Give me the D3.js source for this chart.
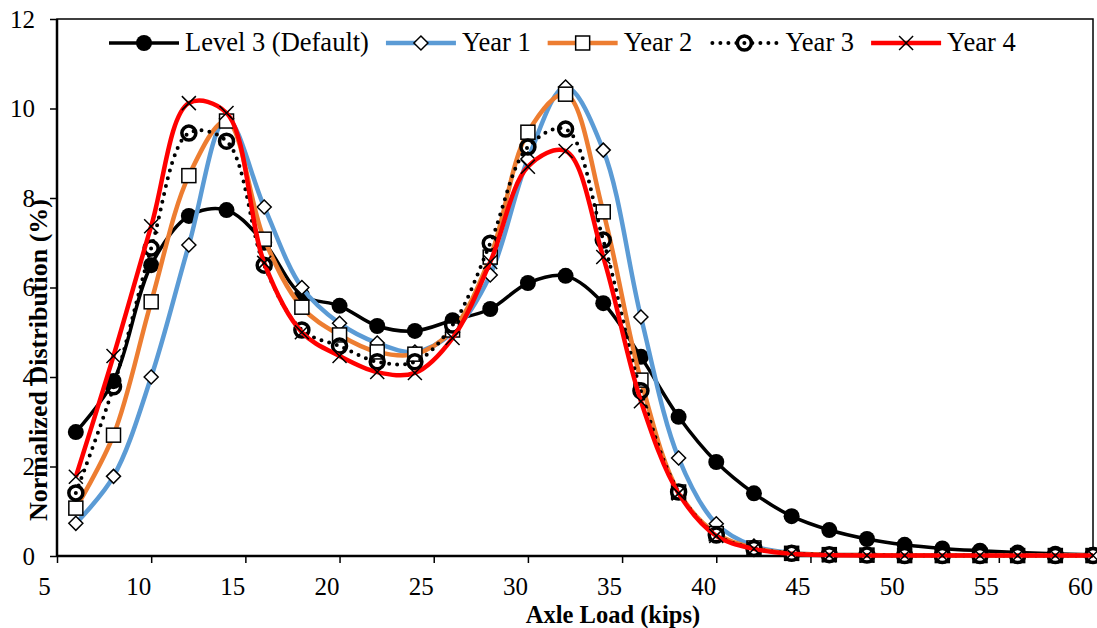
<!DOCTYPE html>
<html>
<head>
<meta charset="utf-8">
<script src="https://cdn.jsdelivr.net/npm/d3@7"></script>
<style>
  body { margin: 0; background: #fff; }
</style>
</head>
<body>
<div id="chart"></div>
<script>
let w = 1097;
let h = 628;
const serif = "Liberation Serif";

// axle load categories (kips)
const axleLoad = [6, 8, 10, 12, 14, 16, 18, 20, 22, 24, 26, 28, 30, 32, 34, 36, 38, 40, 42, 44, 46, 48, 50, 52, 54, 56, 58, 60];

// normalized distribution (%)
const level3 = [2.77, 3.91, 6.5, 7.6, 7.73, 7.0, 5.83, 5.59, 5.14, 5.03, 5.27, 5.52, 6.1, 6.26, 5.65, 4.45, 3.11, 2.1, 1.4, 0.89, 0.58, 0.38, 0.25, 0.17, 0.12, 0.08, 0.05, 0.03];
const year1 = [0.73, 1.78, 4.0, 6.95, 9.77, 7.8, 6.0, 5.2, 4.76, 4.56, 5.0, 6.28, 8.87, 10.48, 9.07, 5.34, 2.19, 0.72, 0.22, 0.07, 0.03, 0.02, 0.01, 0.01, 0.01, 0.01, 0.01, 0.01];
const year2 = [1.07, 2.7, 5.68, 8.5, 9.72, 7.08, 5.56, 4.94, 4.56, 4.51, 5.05, 6.68, 9.47, 10.32, 7.69, 3.93, 1.43, 0.5, 0.18, 0.06, 0.03, 0.02, 0.01, 0.01, 0.01, 0.01, 0.01, 0.01];
const year3 = [1.41, 3.78, 6.88, 9.45, 9.27, 6.5, 5.05, 4.69, 4.34, 4.34, 5.16, 6.99, 9.14, 9.54, 7.06, 3.69, 1.43, 0.47, 0.17, 0.06, 0.03, 0.02, 0.01, 0.01, 0.01, 0.01, 0.01, 0.01];
const year4 = [1.77, 4.47, 7.37, 10.12, 9.9, 6.55, 5.0, 4.47, 4.11, 4.09, 4.87, 6.57, 8.7, 9.05, 6.68, 3.46, 1.4, 0.45, 0.16, 0.05, 0.02, 0.01, 0.01, 0.01, 0.01, 0.01, 0.01, 0.01];

const seriesNames = ["Level 3 (Default)", "Year 1", "Year 2", "Year 3", "Year 4"];
const xTicks = [5, 10, 15, 20, 25, 30, 35, 40, 45, 50, 55, 60];
const yTicks = [0, 2, 4, 6, 8, 10, 12];

let viz = d3.select("#chart")
  .append("svg")
  .attr("width", w)
  .attr("height", h)
  .style("background-color", "white");

let xScale = d3.scaleLinear().domain([5, 60]).range([57, 1093]);
let yScale = d3.scaleLinear().domain([0, 12]).range([556, 19]);

// series styles
let styles = [
  { values: level3, color: "#000", width: 3.5, dash: null, marker: "dot" },
  { values: year1, color: "#5b9bd5", width: 4.5, dash: null, marker: "diamond" },
  { values: year2, color: "#ed7d31", width: 4.5, dash: null, marker: "square" },
  { values: year3, color: "#000", width: 4, dash: "0 8", marker: "ring" },
  { values: year4, color: "#ff0000", width: 4.5, dash: null, marker: "cross" }
];

function drawMarker(g, type) {
  if (type == "dot") {
    g.append("circle").attr("r", 8).attr("fill", "#000");
  } else if (type == "diamond") {
    g.append("path").attr("d", "M0,-7L7,0L0,7L-7,0Z")
      .attr("fill", "white").attr("stroke", "#000").attr("stroke-width", 1.5);
  } else if (type == "square") {
    g.append("rect").attr("x", -7).attr("y", -7).attr("width", 14).attr("height", 14)
      .attr("fill", "white").attr("stroke", "#000").attr("stroke-width", 1.5);
  } else if (type == "ring") {
    g.append("circle").attr("r", 7).attr("fill", "none")
      .attr("stroke", "#000").attr("stroke-width", 3.5);
  } else if (type == "cross") {
    g.append("path").attr("d", "M-7,-7L7,7M-7,7L7,-7")
      .attr("fill", "none").attr("stroke", "#000").attr("stroke-width", 1.5);
  }
}

// axes
let xAxis = d3.axisBottom(xScale).tickValues(xTicks).tickSize(7).tickSizeOuter(0).tickPadding(14);
let xAxisGroup = viz.append("g").attr("class", "xaxisgroup")
  .attr("transform", "translate(0," + yScale(0) + ")")
  .call(xAxis)
  .attr("font-family", serif).attr("font-size", 25);
// labels sit a little left of their ticks in the original
xAxisGroup.selectAll("text").attr("dx", -13).attr("fill", "#000");

let yAxis = d3.axisLeft(yScale).tickValues(yTicks).tickSize(7).tickSizeOuter(0).tickPadding(15);
let yAxisGroup = viz.append("g").attr("class", "yaxisgroup")
  .attr("transform", "translate(" + xScale(5) + ",0)")
  .call(yAxis)
  .attr("font-family", serif).attr("font-size", 25);
yAxisGroup.selectAll("text").attr("fill", "#000");

viz.selectAll(".domain").remove();
viz.selectAll(".tick line").attr("stroke", "#000").attr("stroke-width", 1.5);

// plot frame
viz.append("rect")
  .attr("x", xScale(5)).attr("y", yScale(12))
  .attr("width", xScale(60) - xScale(5)).attr("height", yScale(0) - yScale(12))
  .attr("fill", "none").attr("stroke", "#000").attr("stroke-width", 1.5);
viz.append("line")
  .attr("x1", xScale(5)).attr("x2", xScale(60))
  .attr("y1", yScale(0)).attr("y2", yScale(0))
  .attr("stroke", "#000").attr("stroke-width", 2.5);
viz.append("line")
  .attr("x1", xScale(5)).attr("x2", xScale(5))
  .attr("y1", yScale(0)).attr("y2", yScale(12))
  .attr("stroke", "#000").attr("stroke-width", 2.5);

// lines + markers, one series at a time
let line = d3.line()
  .x((d, i) => xScale(axleLoad[i]))
  .y(d => yScale(d))
  .curve(d3.curveCatmullRom.alpha(0.5));

styles.forEach(s => {
  viz.append("path")
    .datum(s.values)
    .attr("d", line)
    .attr("fill", "none")
    .attr("stroke", s.color)
    .attr("stroke-width", s.width)
    .attr("stroke-linecap", s.dash ? "round" : "butt")
    .attr("stroke-dasharray", s.dash);

  viz.selectAll(".m-" + s.marker).data(s.values).enter()
    .append("g")
    .attr("class", "m-" + s.marker)
    .attr("transform", (d, i) => "translate(" + xScale(axleLoad[i]) + "," + yScale(d) + ")")
    .each(function () { drawMarker(d3.select(this), s.marker); });
});

// legend
let legend = viz.append("g").attr("class", "legend");
let lx = 109;
let ly = 43;
styles.forEach((s, i) => {
  let item = legend.append("g").attr("transform", "translate(" + lx + "," + ly + ")");
  item.append("line")
    .attr("x1", 0).attr("x2", 70).attr("y1", 0).attr("y2", 0)
    .attr("stroke", s.color).attr("stroke-width", s.width)
    .attr("stroke-linecap", s.dash ? "round" : "butt")
    .attr("stroke-dasharray", s.dash ? "0 8" : null)
    .attr("stroke-dashoffset", s.dash ? -3 : null);
  drawMarker(item.append("g").attr("transform", "translate(35,0)"), s.marker);
  let t = item.append("text")
    .attr("x", 76).attr("y", 8)
    .attr("font-family", serif)
    .attr("font-size", 26.5)
    .text(seriesNames[i]);
  lx += 76 + t.node().getComputedTextLength() + 17;
});

// axis titles
viz.append("text")
  .attr("x", 613).attr("y", 623)
  .attr("text-anchor", "middle")
  .attr("font-family", serif)
  .attr("font-size", 24.5).attr("font-weight", "bold")
  .text("Axle Load (kips)");

viz.append("text")
  .attr("transform", "translate(47,360) rotate(-90)")
  .attr("text-anchor", "middle")
  .attr("font-family", serif)
  .attr("font-size", 26).attr("font-weight", "bold")
  .text("Normalized Distribution (%)");
</script>
</body>
</html>
